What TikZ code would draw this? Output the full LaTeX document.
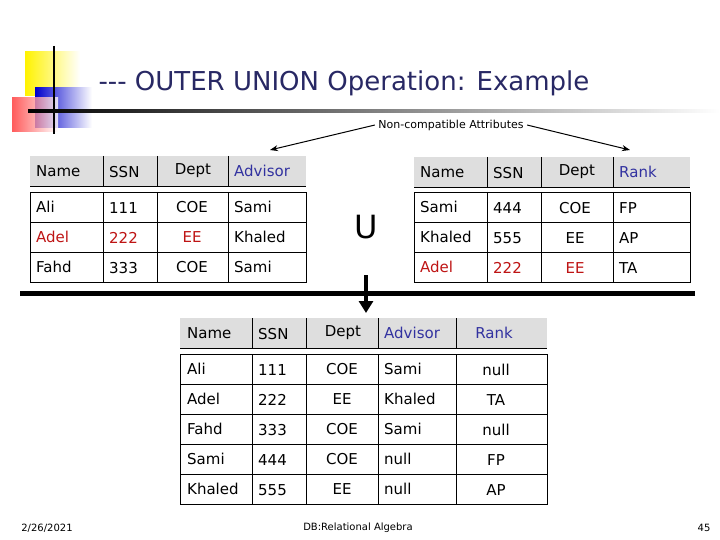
\documentclass[tikz,border=0pt]{standalone}
\usepackage{fontspec}
\setmainfont{DejaVu Sans}
\usetikzlibrary{positioning,arrows.meta}
\definecolor{titleblue}{RGB}{40,40,100}
\definecolor{attrblue}{RGB}{50,50,160}
\definecolor{rowred}{RGB}{190,20,20}
\definecolor{headgray}{RGB}{222,222,222}
\begin{document}
\begin{tikzpicture}[x=1pt,y=-1pt]
\tikzset{cell/.style={anchor=west, inner sep=0pt, font=\fontsize{15}{15}\selectfont},
  ccell/.style={inner sep=0pt, font=\fontsize{15}{15}\selectfont},
  grid/.style={draw=black, line width=0.8pt},
  head/.style={fill=headgray},
  pointer/.style={-{Stealth[length=8pt,width=6pt]}, line width=1pt}}
\useasboundingbox (0,0) rectangle (720,540);
% logo
\shade[left color=yellow!90!orange, right color=white] (25,52) rectangle (80,96);
\shade[left color=blue!80!black, right color=white] (35,88) rectangle (92,128);
\shade[left color=red!80, right color=white, opacity=0.8] (12,98) rectangle (58,132);
\draw[line width=2pt] (54,46) -- (54,134);
\shade[left color=black, right color=white] (28,110) rectangle (720,113);
\node[font=\fontsize{26}{26}\selectfont, text=titleblue, anchor=west] (title) at (95,83) {{-}{-}{-} OUTER UNION Operation: Example};
% first relation
\fill[head] (30,156) rectangle (306,186);
\draw[grid] (30,186) -- (306,186);
\foreach \x in {103,157,228} \draw[grid] (\x,156) -- (\x,186);
\draw[grid] (30,192) rectangle (306,282);
\foreach \y in {222,252} \draw[grid] (30,\y) -- (306,\y);
\foreach \x in {103,157,228} \draw[grid] (\x,192) -- (\x,282);
\node[cell] (ra-h1) at (36,171) {Name};
\node[cell] (ra-h2) at (109,172) {SSN};
\node[ccell] (ra-h3) at (193,171) {Dept};
\node[cell, text=attrblue] (ra-h4) at (234,171) {Advisor};
\foreach \n/\s/\d/\a/\c [count=\i] in {Ali/111/COE/Sami/black, Adel/222/EE/Khaled/rowred, Fahd/333/COE/Sami/black}{
  \node[cell, text=\c] (ra-n\i) at (36,177+30*\i) {\n};
  \node[cell, text=\c] (ra-s\i) at (109,178+30*\i) {\s};
  \node[ccell, text=\c] (ra-d\i) at (192,177+30*\i) {\d};
  \node[cell] (ra-a\i) at (234,177+30*\i) {\a};
}
% second relation
\fill[head] (414,157) rectangle (690,187);
\draw[grid] (414,187) -- (690,187);
\foreach \x in {487,541,613} \draw[grid] (\x,157) -- (\x,187);
\draw[grid] (414,192) rectangle (690,282);
\foreach \y in {222,252} \draw[grid] (414,\y) -- (690,\y);
\foreach \x in {487,541,613} \draw[grid] (\x,192) -- (\x,282);
\node[cell] (rb-h1) at (420,172) {Name};
\node[cell] (rb-h2) at (493,173) {SSN};
\node[ccell] (rb-h3) at (577,172) {Dept};
\node[cell, text=attrblue] (rb-h4) at (619,172) {Rank};
\foreach \n/\s/\d/\r/\c [count=\i] in {Sami/444/COE/FP/black, Khaled/555/EE/AP/black, Adel/222/EE/TA/rowred}{
  \node[cell, text=\c] (rb-n\i) at (420,177+30*\i) {\n};
  \node[cell, text=\c] (rb-s\i) at (493,178+30*\i) {\s};
  \node[ccell, text=\c] (rb-d\i) at (575,178+30*\i) {\d};
  \node[cell] (rb-r\i) at (619,178+30*\i) {\r};
}
% union and attributes
\node[font=\fontsize{32}{32}\selectfont] (union) at (366,227) {U};
\node[font=\fontsize{11}{11}\selectfont] (noncomp) at (451,125) {Non-compatible Attributes};
\coordinate (advisor-tip) at (270,150);
\coordinate (rank-tip) at (630,150);
\draw[pointer] (noncomp.west) -- (advisor-tip);
\draw[pointer] (noncomp.east) -- (rank-tip);
\draw[line width=5pt] (20,293) -- (695,293);
\coordinate (split) at (366,275);
\coordinate (result) at (366,313);
\draw[line width=4pt, -{Triangle[length=12pt,width=14pt]}] (split) -- (result);
% result relation
\fill[head] (180,318) rectangle (547,348);
\draw[grid] (180,348) -- (547,348);
\foreach \x in {252,306,378,456} \draw[grid] (\x,318) -- (\x,348);
\draw[grid] (180,354) rectangle (547,504);
\foreach \y in {384,414,444,474} \draw[grid] (180,\y) -- (547,\y);
\foreach \x in {252,306,378,456} \draw[grid] (\x,354) -- (\x,504);
\node[cell] (rc-h1) at (187,333) {Name};
\node[cell] (rc-h2) at (258,334) {SSN};
\node[ccell] (rc-h3) at (343,333) {Dept};
\node[cell, text=attrblue] (rc-h4) at (384,333) {Advisor};
\node[ccell, text=attrblue] (rc-h5) at (494,333) {Rank};
\foreach \n/\s/\d/\a/\r [count=\i] in {Ali/111/COE/Sami/null, Adel/222/EE/Khaled/TA, Fahd/333/COE/Sami/null, Sami/444/COE/null/FP, Khaled/555/EE/null/AP}{
  \node[cell] (rc-n\i) at (187,339+30*\i) {\n};
  \node[cell] (rc-s\i) at (258,340+30*\i) {\s};
  \node[ccell] (rc-d\i) at (342,339+30*\i) {\d};
  \node[cell] (rc-a\i) at (384,339+30*\i) {\a};
  \node[ccell] (rc-r\i) at (496,340+30*\i) {\r};
}
% footer
\node[font=\fontsize{10}{10}\selectfont] (date) at (47,528) {2/26/2021};
\node[font=\fontsize{10}{10}\selectfont] (course) at (358,528) {DB:Relational Algebra};
\node[font=\fontsize{10}{10}\selectfont] (page) at (704,528) {45};
\end{tikzpicture}
\end{document}
